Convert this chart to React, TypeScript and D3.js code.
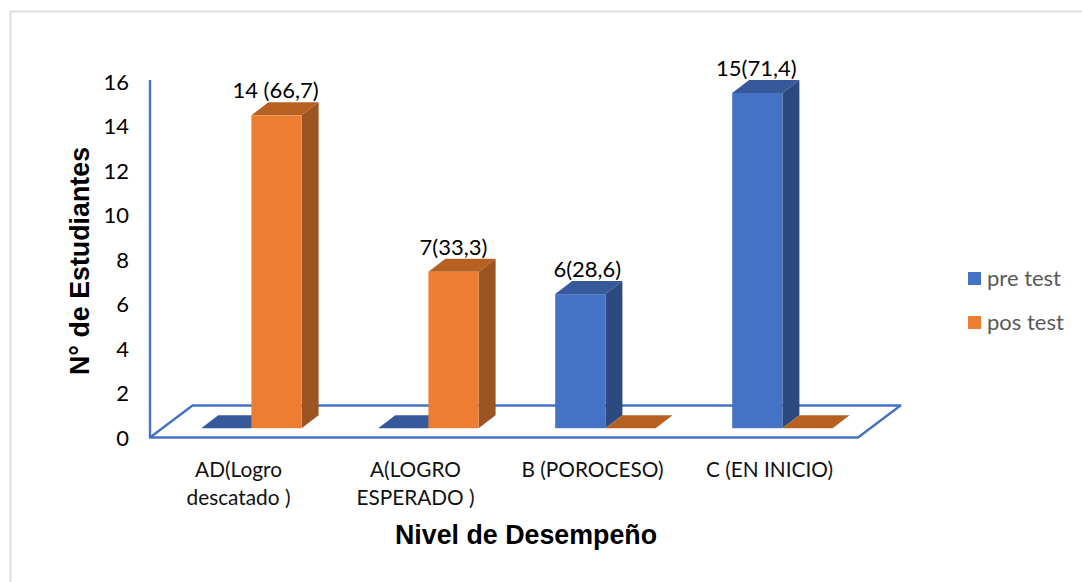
import React from "react";
import * as d3 from "d3";

const categories = [["AD(Logro", "descatado )"], ["A(LOGRO", "ESPERADO )"], ["B (POROCESO)"], ["C (EN INICIO)"]];
const seriesNames = ["pre test", "pos test"];
const preTest = [0, 0, 6, 15];
const posTest = [14, 7, 0, 0];
const preLabels = ["", "", "6(28,6)", "15(71,4)"];
const posLabels = ["14 (66,7)", "7(33,3)", "", ""];
const labelNudge = [-1, 0, 7, -1];
const yTicks = [0, 2, 4, 6, 8, 10, 12, 14, 16];

const W = 1082, H = 582;
const TXT = "Lato, Carlito, sans-serif";
const ARIAL = "'Liberation Sans', Arial, sans-serif";
const BLUE = { front: "#4472C4", side: "#2C4A80", top: "#36599C" };
const ORANGE = { front: "#ED7D31", side: "#9C5422", top: "#B66122" };
const AXIS = "#4472C4";

const xScale = d3.scaleBand<number>().domain([0, 1, 2, 3]).range([150, 858]);
const yAxis = d3.scaleLinear().domain([0, 16]).range([437.5, 82]);
const yBar = d3.scaleLinear().domain([0, 15]).range([428.2, 93]);
const barW = 50.2, dx = 17, dy = 13, floorDx = 42.5, floorDy = 32;

function Bar({ x, v, c }: { x: number; v: number; c: typeof BLUE }) {
  const y = yBar(v), b = yBar(0), r = x + barW;
  const pts = (a: number[][]) => a.map((p) => p.join(",")).join(" ");
  return (
    <g>
      <polygon fill={c.top} points={pts([[x, y], [r, y], [r + dx, y - dy], [x + dx, y - dy]])} />
      {v > 0 && <polygon fill={c.side} points={pts([[r, y], [r + dx, y - dy], [r + dx, b - dy], [r, b]])} />}
      {v > 0 && <rect x={x} y={y} width={barW} height={b - y} fill={c.front} />}
    </g>
  );
}

export default function App() {
  const x0 = xScale.range()[0], x1 = xScale.range()[1];
  const y0 = yAxis(0), yTop = 80;
  const barStart = (i: number) => xScale(i)! + xScale.bandwidth() / 2 + 12.9 - barW;
  return (
    <svg width={W} height={H} style={{ position: "absolute", left: 0, top: 0, background: "#fff" }}>
      <path d={`M10.5,${H}V11.5H${W}`} fill="none" stroke="#DEDEDE" strokeWidth={2} />
      <path
        d={`M${x0},${yTop}V${y0}L${x0 + floorDx},${y0 - floorDy}H${x1 + floorDx}L${x1},${y0}H${x0}`}
        fill="none" stroke={AXIS} strokeWidth={2.4} strokeLinejoin="round"
      />
      {categories.map((_, i) => (
        <g key={i}>
          <Bar x={barStart(i)} v={preTest[i]} c={BLUE} />
          <Bar x={barStart(i) + barW} v={posTest[i]} c={ORANGE} />
        </g>
      ))}
      {yTicks.map((t) => (
        <text key={t} x={129} y={yAxis(t) + 8} textAnchor="end" fontFamily={TXT} fontSize={22} fill="#000">{t}</text>
      ))}
      {categories.map((lines, i) => lines.map((l, j) => (
        <text key={l} x={xScale(i)! + xScale.bandwidth() / 2} y={477 + j * 28} textAnchor="middle" fontFamily={TXT} fontSize={20.8} fill="#111">{l}</text>
      )))}
      {categories.map((_, i) => {
        const lab = preLabels[i] || posLabels[i];
        const v = preLabels[i] ? preTest[i] : posTest[i];
        const cx = barStart(i) + (preLabels[i] ? barW / 2 : barW * 1.5) + labelNudge[i];
        return <text key={i} x={cx} y={yBar(v) - dy - 4} textAnchor="middle" fontFamily={TXT} fontSize={22} fill="#000">{lab}</text>;
      })}
      <text transform="translate(89,261) rotate(-90)" textAnchor="middle" fontFamily={ARIAL} fontWeight="bold" fontSize={26.8} fill="#000">N° de Estudiantes</text>
      <text x={526} y={544} textAnchor="middle" fontFamily={ARIAL} fontWeight="bold" fontSize={26.8} fill="#000">Nivel de Desempeño</text>
      {seriesNames.map((s, i) => (
        <g key={s}>
          <rect x={968} y={272 + i * 44} width={13} height={13} fill={i ? ORANGE.front : BLUE.front} />
          <text x={987} y={286 + i * 44} fontFamily={TXT} fontSize={22} fill="#595959">{s}</text>
        </g>
      ))}
    </svg>
  );
}
